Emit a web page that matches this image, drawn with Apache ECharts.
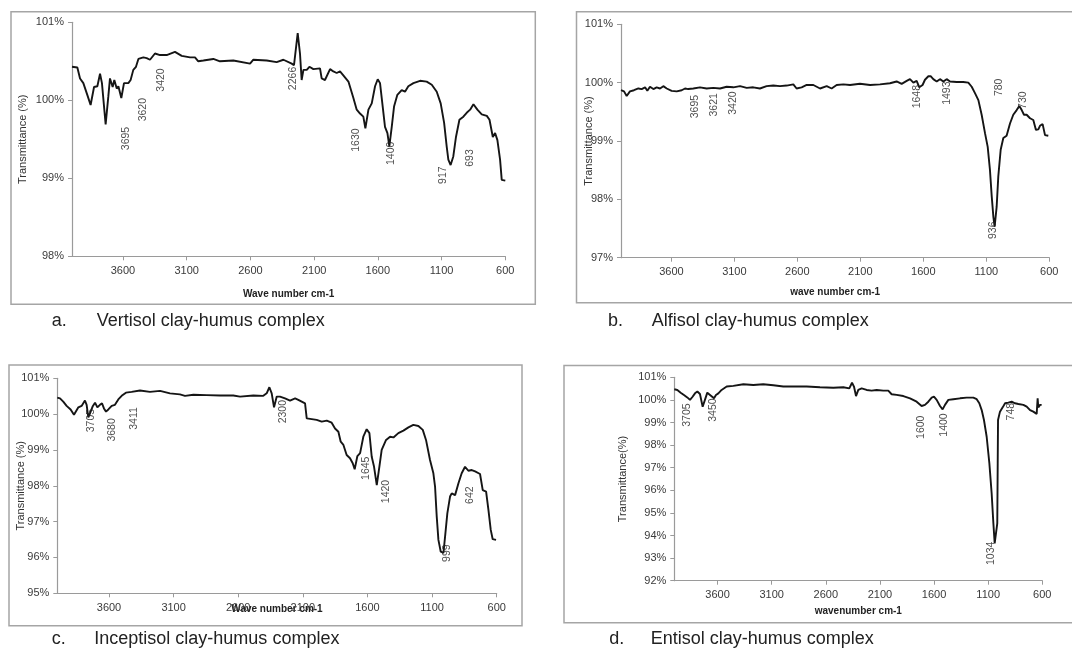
<!DOCTYPE html>
<html>
<head>
<meta charset="utf-8">
<script src="https://cdn.jsdelivr.net/npm/echarts@6/dist/echarts.min.js"></script>
<style>
html,body{margin:0;padding:0;background:#fff;}
#chart{width:1072px;height:651px;}
</style>
</head>
<body>
<div id="chart"></div>
<script>
// ---- data: [wavenumber cm-1, transmittance %] ----
const vertisol = [
[4000,100.43],[3958,100.42],[3937,100.28],[3911,100.22],[3880,100.07],[3854,99.94],[3827,100.17],[3801,100.18],
[3780,100.34],[3765,100.22],[3736,99.69],[3715,100.05],[3702,100.28],[3681,100.17],[3668,100.26],[3649,100.15],
[3636,100.18],[3613,100.03],[3592,100.22],[3558,100.22],[3540,100.26],[3519,100.39],[3498,100.43],[3479,100.53],
[3440,100.55],[3414,100.54],[3388,100.52],[3349,100.60],[3309,100.58],[3257,100.58],[3192,100.62],[3139,100.57],
[3074,100.55],[3035,100.55],[3009,100.50],[2969,100.51],[2891,100.53],[2839,100.50],[2734,100.51],[2603,100.47],
[2577,100.52],[2472,100.51],[2394,100.49],[2341,100.52],[2276,100.47],[2258,100.45],[2229,100.86],[2211,100.60],
[2198,100.26],[2184,100.39],[2158,100.39],[2137,100.43],[2106,100.40],[2054,100.41],[2041,100.28],[2015,100.26],
[1975,100.40],[1949,100.37],[1923,100.35],[1897,100.37],[1871,100.32],[1831,100.24],[1792,100.03],[1766,99.88],
[1740,99.83],[1714,99.79],[1698,99.64],[1674,99.88],[1648,99.96],[1622,100.18],[1601,100.27],[1583,100.22],
[1562,99.92],[1544,99.66],[1525,99.58],[1510,99.41],[1491,99.66],[1473,99.92],[1447,100.07],[1413,100.13],
[1387,100.11],[1361,100.18],[1321,100.22],[1269,100.25],[1217,100.24],[1177,100.20],[1138,100.11],[1107,99.96],
[1080,99.71],[1060,99.41],[1047,99.24],[1029,99.17],[1008,99.28],[987,99.53],[960,99.75],[929,99.79],
[903,99.84],[876,99.88],[850,99.95],[819,99.88],[785,99.82],[745,99.80],[724,99.75],[698,99.53],
[680,99.58],[662,99.49],[641,99.24],[628,98.98],[600,98.97]
];
const alfisol = [
[4000,99.87],[3976,99.85],[3955,99.77],[3929,99.85],[3897,99.87],[3862,99.90],[3836,99.89],[3809,99.92],
[3791,99.86],[3770,99.93],[3743,99.89],[3717,99.92],[3690,99.90],[3664,99.94],[3637,99.90],[3598,99.86],
[3558,99.85],[3518,99.87],[3492,99.90],[3466,99.89],[3426,99.90],[3373,99.92],[3320,99.90],[3267,99.91],
[3214,99.90],[3161,99.93],[3108,99.92],[3055,99.94],[3002,99.91],[2950,99.92],[2897,99.90],[2844,99.94],
[2791,99.95],[2738,99.94],[2685,99.95],[2632,99.97],[2606,99.90],[2566,99.92],[2526,99.96],[2473,99.96],
[2420,99.90],[2367,99.94],[2328,99.90],[2288,99.96],[2235,99.97],[2182,99.96],[2103,99.98],[2023,99.96],
[1944,99.97],[1865,99.99],[1812,100.02],[1772,99.98],[1732,100.03],[1706,100.06],[1679,100.00],[1653,100.03],
[1632,99.92],[1606,99.96],[1587,100.05],[1560,100.11],[1542,100.11],[1521,100.06],[1494,100.02],[1468,100.06],
[1441,100.02],[1415,100.06],[1388,100.02],[1335,100.01],[1283,100.01],[1243,100.00],[1216,99.93],[1190,99.82],
[1163,99.70],[1137,99.45],[1110,99.13],[1089,98.90],[1071,98.50],[1057,98.05],[1044,97.70],[1034,97.53],
[1018,97.87],[1005,98.39],[986,98.85],[965,99.05],[939,99.09],[912,99.30],[886,99.45],[859,99.53],
[838,99.60],[819,99.53],[801,99.45],[780,99.45],[753,99.39],[727,99.36],[706,99.19],[687,99.20],
[674,99.26],[653,99.29],[634,99.10],[608,99.09]
];
const inceptisol = [
[4000,100.46],[3979,100.44],[3954,100.35],[3928,100.23],[3897,100.13],[3871,99.98],[3856,100.02],[3837,100.19],
[3812,100.23],[3786,100.38],[3773,100.26],[3760,99.91],[3747,100.02],[3727,100.21],[3708,100.32],[3690,100.19],
[3670,100.26],[3654,100.30],[3639,100.16],[3623,100.07],[3605,100.13],[3579,100.23],[3554,100.26],[3528,100.41],
[3502,100.51],[3469,100.60],[3425,100.62],[3360,100.66],[3283,100.62],[3205,100.65],[3128,100.58],[3051,100.55],
[3012,100.51],[2947,100.54],[2844,100.53],[2741,100.52],[2638,100.52],[2586,100.49],[2483,100.52],[2406,100.51],
[2380,100.58],[2359,100.75],[2341,100.58],[2323,100.19],[2302,100.49],[2277,100.49],[2238,100.44],[2199,100.38],
[2160,100.44],[2135,100.40],[2109,100.35],[2083,100.30],[2070,99.88],[2031,99.86],[1993,99.84],[1954,99.79],
[1915,99.82],[1877,99.76],[1851,99.60],[1825,99.51],[1807,99.23],[1786,99.14],[1761,98.86],[1735,98.77],
[1714,98.63],[1699,98.46],[1678,98.83],[1657,98.91],[1632,99.37],[1606,99.58],[1585,99.47],[1567,98.81],
[1549,98.53],[1528,98.02],[1508,98.53],[1490,99.00],[1456,99.28],[1425,99.37],[1399,99.35],[1361,99.47],
[1322,99.54],[1283,99.63],[1245,99.70],[1206,99.67],[1172,99.56],[1147,99.28],[1116,98.72],[1090,98.35],
[1077,97.98],[1064,97.14],[1051,96.49],[1033,96.16],[1012,96.13],[997,96.67],[982,97.23],[961,97.70],
[948,97.79],[922,97.74],[896,98.07],[871,98.35],[845,98.53],[819,98.42],[793,98.44],[767,98.40],
[729,98.33],[708,97.88],[682,97.84],[664,97.33],[646,96.77],[631,96.51],[605,96.49]
];
const entisol = [
[4000,100.47],[3972,100.44],[3941,100.32],[3911,100.22],[3880,100.11],[3855,100.00],[3831,100.14],[3809,100.29],
[3787,100.37],[3763,100.26],[3738,99.70],[3717,100.00],[3695,100.32],[3670,100.22],[3655,100.29],[3633,100.07],
[3615,100.22],[3593,100.29],[3563,100.44],[3516,100.59],[3455,100.62],[3362,100.69],[3270,100.66],[3178,100.69],
[3085,100.65],[2993,100.59],[2900,100.59],[2777,100.59],[2654,100.56],[2531,100.54],[2438,100.56],[2383,100.51],
[2358,100.76],[2340,100.59],[2321,100.17],[2300,100.44],[2269,100.51],[2223,100.44],[2177,100.41],[2130,100.44],
[2069,100.41],[2023,100.41],[1992,100.25],[1946,100.22],[1884,100.17],[1822,100.07],[1761,99.92],[1715,99.73],
[1684,99.78],[1653,99.92],[1622,100.10],[1601,100.14],[1576,100.00],[1545,99.73],[1521,99.58],[1499,99.78],
[1468,100.00],[1422,100.03],[1360,100.07],[1299,100.10],[1237,100.10],[1206,100.03],[1182,99.85],[1160,99.55],
[1139,99.11],[1114,98.37],[1089,97.19],[1068,95.87],[1052,94.54],[1040,93.65],[1022,93.58],[1016,94.54],
[1012,97.19],[1009,99.11],[991,99.48],[966,99.67],[944,99.85],[914,99.88],[883,99.92],[852,99.85],
[821,99.82],[775,99.78],[744,99.70],[713,99.55],[683,99.48],[667,99.55],[652,99.38],[643,100.07],
[637,99.67],[621,99.78],[606,99.78]
];

// ---- peak annotations: [wavenumber, transmittance at label centre, text] ----
const vertisolPeaks = [[3576,99.51,'3695'],[3445,99.88,'3620'],[3304,100.26,'3420'],[2263,100.28,'2266'],
  [1771,99.49,'1630'],[1499,99.32,'1400'],[1086,99.04,'917'],[877,99.26,'693']];
const alfisolPeaks = [[3413,99.59,'3695'],[3262,99.62,'3621'],[3114,99.65,'3420'],[1653,99.76,'1648'],
  [1410,99.82,'1493'],[997,99.92,'780'],[806,99.70,'730'],[1044,97.47,'936']];
const inceptisolPeaks = [[3742,99.82,'3705'],[3579,99.56,'3680'],[3407,99.88,'3411'],[2256,100.07,'2300'],
  [1611,98.49,'1645'],[1459,97.84,'1420'],[987,96.12,'999'],[806,97.74,'642']];
const entisolPeaks = [[3886,99.33,'3705'],[3640,99.55,'3450'],[1724,98.79,'1600'],[1505,98.89,'1400'],
  [1074,93.21,'1034'],[892,99.48,'748']];

// ---- axis ticks / texts ----
const xTicks = [600,1100,1600,2100,2600,3100,3600];
const yRanges = [[98,101],[97,101],[95,101],[92,101]];
const xTitles = ['Wave number cm-1','wave number cm-1','Wave number cm-1','wavenumber cm-1'];
const yTitles = ['Transmittance (%)','Transmittance (%)','Transmittance (%)','Transmittance(%)'];
const captionLetters = ['a.','b.','c.','d.'];
const captions = ['Vertisol clay-humus complex','Alfisol clay-humus complex','Inceptisol clay-humus complex','Entisol clay-humus complex'];

const spectra = [vertisol, alfisol, inceptisol, entisol];
const peaks = [vertisolPeaks, alfisolPeaks, inceptisolPeaks, entisolPeaks];

// ---- layout (px) ----
const grids = [
  {left:72, top:22.3, width:433.3, height:234},
  {left:621, top:24.3, width:428.3, height:233.4},
  {left:57.3, top:378.3, width:439.4, height:215},
  {left:674.3, top:377.3, width:368, height:203.4}
];
const frames = [
  {x:11, y:11.7, width:524.3, height:292.6},
  {x:576.5, y:11.7, width:520, height:291},
  {x:9, y:365, width:513, height:260.7},
  {x:564, y:365.5, width:520, height:257.2}
];
const xNameGaps = [33, 30, 11, 26];
const yNameGaps = [44, 27, 31, 46];
const captionPos = [[51.7,96.7,321],[608,651.7,321],[51.7,94.3,639],[609.3,650.7,639]];

const FONT = '"Liberation Sans", Arial, sans-serif';
const axisGray = '#9a9a9a';

const chart = echarts.init(document.getElementById('chart'), null, {renderer:'canvas'});

const option = {
  animation:false,
  backgroundColor:'#fff',
  grid: grids.map(g => Object.assign({outerBoundsMode:'none', containLabel:false}, g)),
  xAxis: grids.map((g,i) => ({
    type:'value', gridIndex:i, inverse:true, min:600, max:4000,
    name: xTitles[i], nameLocation:'middle', nameGap: xNameGaps[i], nameMoveOverlap:false,
    nameTextStyle:{fontFamily:FONT, fontSize:10, fontWeight:'bold', color:'#222'},
    axisLine:{show:true, onZero:false, lineStyle:{color:axisGray, width:1.2}},
    axisTick:{show:true, length:4, lineStyle:{color:axisGray}, customValues:xTicks},
    axisLabel:{fontFamily:FONT, fontSize:11, color:'#3a3a3a', margin:9, customValues:xTicks,
      formatter: v => String(v)},
    splitLine:{show:false}
  })),
  yAxis: grids.map((g,i) => ({
    type:'value', gridIndex:i, min:yRanges[i][0], max:yRanges[i][1], interval:1,
    name: yTitles[i], nameLocation:'middle', nameGap: yNameGaps[i], nameRotate:90, nameMoveOverlap:false,
    nameTextStyle:{fontFamily:FONT, fontSize:11, color:'#333'},
    axisLine:{show:true, onZero:false, lineStyle:{color:axisGray, width:1.2}},
    axisTick:{show:true, length:4, lineStyle:{color:axisGray}},
    axisLabel:{fontFamily:FONT, fontSize:11, color:'#3a3a3a', margin:8, formatter: v => v + '%'},
    splitLine:{show:false}
  })),
  series: [].concat(
    spectra.map((d,i) => ({
      type:'line', xAxisIndex:i, yAxisIndex:i, data:d, showSymbol:false, symbol:'none',
      lineStyle:{color:'#151515', width:1.9}, silent:true, z:3
    })),
    peaks.map((d,i) => ({
      type:'scatter', xAxisIndex:i, yAxisIndex:i, data:d, symbolSize:1,
      itemStyle:{color:'rgba(0,0,0,0)'}, silent:true, z:4,
      label:{show:true, position:'inside', rotate:90, formatter: p => p.data[2],
        fontFamily:FONT, fontSize:10.5, color:'#222'}
    }))
  ),
  graphic: [].concat(
    frames.map(f => ({type:'rect', shape:f, style:{fill:null, stroke:'#a5a5a5', lineWidth:1.5}, silent:true, z:0})),
    captionPos.map((p,i) => ({type:'text', x:p[0], y:p[2], style:{text:captionLetters[i], font:'18px ' + FONT, fill:'#222', textVerticalAlign:'middle'}, silent:true})),
    captionPos.map((p,i) => ({type:'text', x:p[1], y:p[2], style:{text:captions[i], font:'18px ' + FONT, fill:'#222', textVerticalAlign:'middle'}, silent:true}))
  )
};
chart.setOption(option);
</script>
</body>
</html>
